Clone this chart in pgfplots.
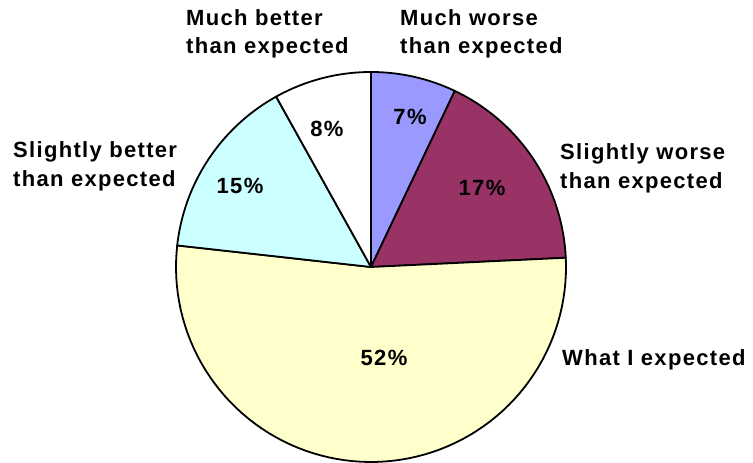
\documentclass[border=0pt]{standalone}
\usepackage{pgfplots}
\pgfplotsset{compat=1.18}
\usepackage{pgfplotstable}
\usepackage{fontspec}
\setmainfont{Liberation Sans}
\newfontfamily\labelfamily[LetterSpace=6]{Liberation Sans}
\newcommand\lab{\labelfamily\bfseries\fontsize{22bp}{26bp}\selectfont}

\definecolor{piepurple}{HTML}{9999FF}
\definecolor{piemaroon}{HTML}{993366}
\definecolor{pieyellow}{HTML}{FFFFCC}
\definecolor{piecyan}{HTML}{CCFFFF}

% survey answers, in percent, clockwise from the top
\pgfplotstableread{
share
7
17
52
15
8
}\piedata

\begin{document}
\begin{tikzpicture}
\pgfplotstablegetelem{0}{share}\of\piedata\let\sA\pgfplotsretval
\pgfplotstablegetelem{1}{share}\of\piedata\let\sB\pgfplotsretval
\pgfplotstablegetelem{2}{share}\of\piedata\let\sC\pgfplotsretval
\pgfplotstablegetelem{3}{share}\of\piedata\let\sD\pgfplotsretval
\pgfplotstablegetelem{4}{share}\of\piedata\let\sE\pgfplotsretval
\pgfmathsetmacro\tot{\sA+\sB+\sC+\sD+\sE}
\pgfmathsetmacro\aA{90}
\pgfmathsetmacro\aB{\aA-\sA/\tot*360}
\pgfmathsetmacro\aC{\aB-\sB/\tot*360}
\pgfmathsetmacro\aD{\aC-\sC/\tot*360}
\pgfmathsetmacro\aE{\aD-\sD/\tot*360}
\pgfmathsetmacro\aF{\aE-\sE/\tot*360}
\begin{axis}[
  scale only axis, width=753bp, height=463bp,
  xmin=0, xmax=753, ymin=-463, ymax=0,
  hide axis, clip=false,
  slice/.style={draw=black, line width=1.8bp, line join=round, samples=80, variable=\t},
]
% keep the whole canvas as the picture's extent
\path (0,-463) rectangle (753,0);

\addplot[slice, fill=piepurple, domain=\aB:\aA] ({371+195*cos(\t)}, {-267+195*sin(\t)}) -- (371,-267) -- cycle;
\addplot[slice, fill=piemaroon, domain=\aC:\aB] ({371+195*cos(\t)}, {-267+195*sin(\t)}) -- (371,-267) -- cycle;
\addplot[slice, fill=pieyellow, domain=\aD:\aC] ({371+195*cos(\t)}, {-267+195*sin(\t)}) -- (371,-267) -- cycle;
\addplot[slice, fill=piecyan,   domain=\aE:\aD] ({371+195*cos(\t)}, {-267+195*sin(\t)}) -- (371,-267) -- cycle;
\addplot[slice, fill=white,     domain=\aF:\aE] ({371+195*cos(\t)}, {-267+195*sin(\t)}) -- (371,-267) -- cycle;

% percentages
\node[font=\lab] at (410,-117) {\sA\%};
\node[font=\lab] at (482,-188) {\sB\%};
\node[font=\lab] at (384,-358) {\sC\%};
\node[font=\lab] at (240,-186) {\sD\%};
\node[font=\lab] at (327,-129) {\sE\%};

% category names
\node[font=\lab, anchor=base west, inner sep=0pt] at (186,-26) {Much better};
\node[font=\lab, anchor=base west, inner sep=0pt] at (186,-54) {than expected};
\node[font=\lab, anchor=base west, inner sep=0pt] at (400,-26) {Much worse};
\node[font=\lab, anchor=base west, inner sep=0pt] at (400,-54) {than expected};
\node[font=\lab, anchor=base west, inner sep=0pt] at (13,-158) {Slightly better};
\node[font=\lab, anchor=base west, inner sep=0pt] at (13,-187) {than expected};
\node[font=\lab, anchor=base west, inner sep=0pt] at (560,-160) {Slightly worse};
\node[font=\lab, anchor=base west, inner sep=0pt] at (560,-189) {than expected};
\node[font=\lab, anchor=base west, inner sep=0pt] at (562,-366) {What I expected};
\end{axis}
\end{tikzpicture}
\end{document}
